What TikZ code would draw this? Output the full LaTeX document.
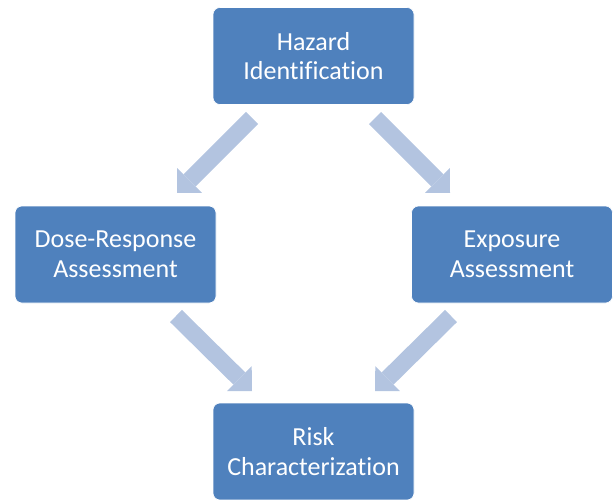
\documentclass[tikz,border=0pt]{standalone}
\usepackage{fontspec}
\setmainfont[Ligatures=NoCommon]{Carlito}
\usetikzlibrary{arrows.meta}
\definecolor{boxblue}{HTML}{4F81BD}
\definecolor{arrowblue}{HTML}{B3C4E0}
\begin{document}
\begin{tikzpicture}[x=1pt,y=-1pt,
  box/.style={draw=white, line width=0.6pt, fill=boxblue, rounded corners=7pt,
    minimum width=201pt, minimum height=97pt, inner sep=0pt,
    text=white, align=center, font=\fontsize{26}{29.5}\selectfont},
  flow/.style={arrowblue, line width=17pt,
    -{Triangle[width=35pt, length=17.7pt, line width=0pt]}}]
\useasboundingbox (0,0) rectangle (616,500);
\node[box] (haz) at (313.5,56) {Hazard\\Identification};
\node[box] (dose) at (115.5,254.5) {Dose-Response\\Assessment};
\node[box] (exp) at (512,254.5) {Exposure\\Assessment};
\node[box] (risk) at (313.5,451.5) {Risk\\Characterization};
\coordinate (a1s) at (252,118);
\coordinate (a1e) at (177,193);
\coordinate (a2s) at (375,118);
\coordinate (a2e) at (450,193);
\coordinate (a3s) at (176,316);
\coordinate (a3e) at (252,391);
\coordinate (a4s) at (451,316);
\coordinate (a4e) at (375,391);
\draw[flow] (a1s) -- (a1e);
\draw[flow] (a2s) -- (a2e);
\draw[flow] (a3s) -- (a3e);
\draw[flow] (a4s) -- (a4e);
\end{tikzpicture}
\end{document}
